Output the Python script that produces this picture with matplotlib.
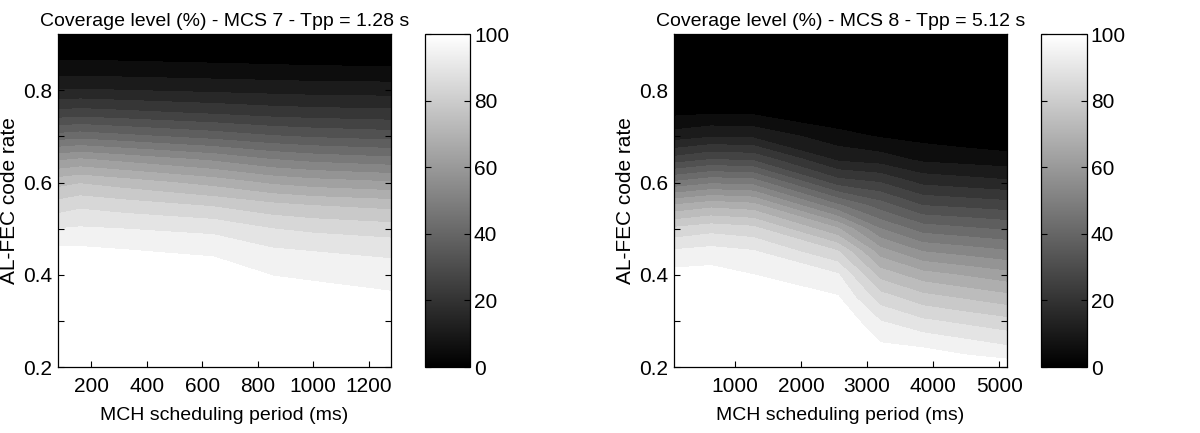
#!/usr/bin/env python3

import numpy as np
import matplotlib
matplotlib.use("Agg")
import matplotlib.pyplot as plt
from matplotlib.colors import ListedColormap, BoundaryNorm, Normalize
from matplotlib.cm import ScalarMappable

plt.rcParams['font.family'] = ['Liberation Sans', 'DejaVu Sans']
plt.rcParams['font.size'] = 15

# AL-FEC code rates (rows of the coverage tables)
code_rates = [0.20, 0.25, 0.30, 0.35, 0.40, 0.45, 0.50, 0.55,
              0.60, 0.65, 0.70, 0.75, 0.80, 0.85, 0.90, 0.95]

levels = list(range(0, 101, 5))

# MCS 7 - Tpp = 1.28 s : coverage (%) per MCH scheduling period (ms)
left_periods = [80, 160, 320, 640, 850, 1000, 1280]
left_cov = [
    [100, 100, 100, 100, 99.5, 96.4, 90.0, 82.3, 73.0, 59.1, 42.0, 26.8, 15.2, 6.4, 1.5, 0],
    [100, 100, 100, 100, 99.8, 96.3, 90.5, 84.0, 74.5, 60.5, 43.0, 27.5, 15.5, 6.5, 1.5, 0],
    [100, 100, 100, 100, 99.7, 95.5, 89.9, 82.5, 72.4, 58.3, 41.3, 26.5, 15.0, 6.3, 1.4, 0],
    [100, 100, 100, 100, 99.5, 93.7, 88.7, 79.5, 68.0, 54.0, 38.0, 24.5, 14.0, 5.8, 1.3, 0],
    [100, 100, 100, 99.0, 94.8, 91.0, 85.0, 76.5, 64.0, 50.0, 35.5, 23.0, 13.4, 5.5, 1.2, 0],
    [100, 100, 99.5, 98.0, 93.8, 90.0, 83.8, 75.0, 62.3, 48.3, 34.3, 22.4, 13.0, 5.3, 1.1, 0],
    [100, 100, 99.2, 96.0, 92.5, 88.9, 82.3, 73.4, 60.5, 46.5, 32.9, 21.7, 12.7, 5.1, 1.0, 0],
]

# MCS 8 - Tpp = 5.12 s
right_periods = [80, 640, 1280, 2560, 3200, 3840, 4480, 5120]
right_cov = [
    [100, 100, 100, 100, 96.7, 90.9, 80.9, 65.7, 45.9, 27.0, 12.4, 4.0, 0, 0, 0, 0],
    [100, 100, 100, 100, 97.0, 92.0, 83.0, 68.5, 49.0, 30.0, 14.5, 4.6, 0, 0, 0, 0],
    [100, 100, 100, 99.5, 95.0, 90.5, 81.5, 67.0, 48.0, 29.0, 14.0, 4.4, 0, 0, 0, 0],
    [100, 100, 100, 95.5, 90.5, 80.5, 65.5, 46.0, 27.5, 14.0, 7.0, 0.5, 0, 0, 0, 0],
    [100, 95.3, 90.0, 82.5, 73.0, 62.5, 50.0, 37.5, 25.0, 12.5, 4.6, 0, 0, 0, 0, 0],
    [100, 94.0, 85.8, 77.0, 67.0, 55.0, 42.5, 30.0, 18.8, 8.9, 3.3, 0, 0, 0, 0, 0],
    [98.7, 91.7, 83.6, 74.4, 64.4, 52.9, 40.8, 28.8, 17.4, 8.0, 2.0, 0, 0, 0, 0, 0],
    [97.9, 89.4, 81.4, 71.8, 61.8, 50.7, 39.1, 27.5, 16.1, 7.1, 0.8, 0, 0, 0, 0, 0],
]

nb = len(levels) - 1
band_cmap = ListedColormap([str(i / (nb - 1)) for i in range(nb)])
band_norm = BoundaryNorm(levels, nb)


def draw(ax, cax, periods, cov, xticks, title):
    Z = np.array(cov).T
    ax.contourf(periods, code_rates, Z, levels=levels, cmap=band_cmap, norm=band_norm)
    ax.set_xlim(periods[0], periods[-1])
    ax.set_ylim(0.2, 0.922)
    ax.set_xticks(xticks)
    ax.set_yticks([0.2, 0.4, 0.6, 0.8])
    ax.set_yticks([0.3, 0.5, 0.7], minor=True)
    ax.tick_params(which='both', direction='in', top=True, right=True,
                   length=4, width=0.8)
    ax.tick_params(axis='x', pad=7)
    ax.tick_params(axis='y', pad=4)
    for s in ax.spines.values():
        s.set_linewidth(0.9)
    ax.set_title(title, fontsize=14, pad=6)
    ax.set_xlabel("MCH scheduling period (ms)", fontsize=14, labelpad=8)
    ax.set_ylabel("AL-FEC code rate", fontsize=15, labelpad=3)

    sm = ScalarMappable(norm=Normalize(0, 100), cmap='gray')
    cb = fig.colorbar(sm, cax=cax, ticks=[0, 20, 40, 60, 80, 100])
    cax.tick_params(direction='in', left=True, right=True, length=4, width=0.8, pad=3)
    cb.outline.set_linewidth(0.9)


fig = plt.figure(figsize=(12, 4.33), dpi=100)
ax1 = fig.add_axes([0.0483, 0.1524, 0.2775, 0.769])
cax1 = fig.add_axes([0.354, 0.1524, 0.0375, 0.769])
ax2 = fig.add_axes([0.5617, 0.1524, 0.2775, 0.769])
cax2 = fig.add_axes([0.8675, 0.1524, 0.038, 0.769])

draw(ax1, cax1, left_periods, left_cov, [200, 400, 600, 800, 1000, 1200],
     "Coverage level (%) - MCS 7 - Tpp = 1.28 s")
draw(ax2, cax2, right_periods, right_cov, [1000, 2000, 3000, 4000, 5000],
     "Coverage level (%) - MCS 8 - Tpp = 5.12 s")

fig.savefig("out.png", dpi=100)
